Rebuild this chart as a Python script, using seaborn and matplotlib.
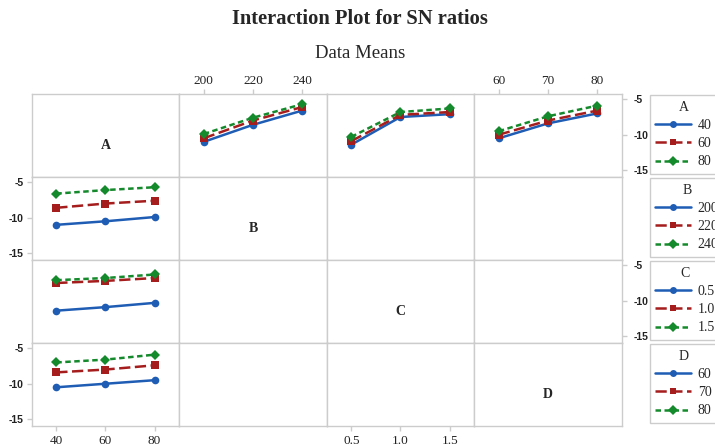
import matplotlib
matplotlib.use("Agg")
import matplotlib.pyplot as plt
from matplotlib.lines import Line2D
import seaborn as sns
import pandas as pd


###--- Factor levels
A_levels = [40, 60, 80]
B_levels = [200, 220, 240]
C_levels = [0.5, 1.0, 1.5]
D_levels = [60, 70, 80]

A_labels = ["40", "60", "80"]
B_labels = ["200", "220", "240"]
C_labels = ["0.5", "1.0", "1.5"]
D_labels = ["60", "70", "80"]

###--- Mean SN ratios (rows = A level, columns = other factor level)
sn_AB = [[-11.0, -8.6, -6.6],
         [-10.5, -8.0, -6.1],
         [-9.9, -7.6, -5.7]]
sn_AC = [[-11.4, -7.5, -7.1],
         [-10.9, -7.2, -6.8],
         [-10.3, -6.8, -6.3]]
sn_AD = [[-10.5, -8.4, -7.0],
         [-10.0, -8.0, -6.6],
         [-9.5, -7.4, -5.9]]

y_ticks = [-5, -10, -15]

###--- Styles
colors = ["#1f5db5", "#a51d1d", "#158a2c"]
markers = ["o", "s", "D"]
dashes = ["", (4.5, 1.8), (2.2, 1.4)]
grid_col = "#cccccc"

sns.set_style("white")
plt.rcParams["font.family"] = ["Liberation Serif", "DejaVu Serif"]

fig = plt.figure(figsize=(7.15, 4.46), dpi=100)
W, H = 715.0, 446.0
left, top = 31.7, 94.3
cw, rh = 147.5, 83.0

names = ["A", "B", "C", "D"]
levels = {"A": A_levels, "B": B_levels, "C": C_levels, "D": D_levels}
labels = {"A": A_labels, "B": B_labels, "C": C_labels, "D": D_labels}
pairs = {"B": sn_AB, "C": sn_AC, "D": sn_AD}

axes = {}
for r in range(4):
    for c in range(4):
        ax = fig.add_axes([(left + c * cw) / W, 1 - (top + (r + 1) * rh) / H, cw / W, rh / H])
        for s in ax.spines.values():
            s.set_color(grid_col)
            s.set_linewidth(1.0)
        axes[(r, c)] = ax


def long_table(mat, xname, hname, xlev, hlab, transpose=False):
    rows = []
    for i in range(3):
        for j in range(3):
            if transpose:
                rows.append({xname: xlev[i], hname: hlab[j], "SN": mat[i][j]})
            else:
                rows.append({xname: xlev[j], hname: hlab[i], "SN": mat[i][j]})
    return pd.DataFrame(rows)


def draw(ax, df, xname, hname, hlab):
    sns.lineplot(data=df, x=xname, y="SN", hue=hname, style=hname,
                 hue_order=hlab, style_order=hlab,
                 palette=colors, markers=markers, dashes=dashes,
                 linewidth=1.8, markersize=5.5, markeredgewidth=0,
                 legend=False, ax=ax)
    ax.set_xlabel("")
    ax.set_ylabel("")


###--- Row A: A levels vs B, C, D
for c, name in enumerate(["B", "C", "D"], start=1):
    df = long_table(pairs[name], name, "A", levels[name], A_labels)
    draw(axes[(0, c)], df, name, "A", A_labels)

###--- Column A: B, C, D levels vs A
for r, name in enumerate(["B", "C", "D"], start=1):
    df = long_table(pairs[name], "A", name, A_levels, labels[name], transpose=True)
    draw(axes[(r, 0)], df, "A", name, labels[name])

###--- Diagonal labels
for i, name in enumerate(names):
    axes[(i, i)].text(0.5, 0.38, name, transform=axes[(i, i)].transAxes,
                      ha="center", va="center", fontsize=10, fontweight="bold")

###--- Limits and ticks
for (r, c), ax in axes.items():
    lv = levels[names[c]]
    span = lv[-1] - lv[0]
    ax.set_xlim(lv[0] - 0.25 * span, lv[-1] + 0.25 * span)
    ax.set_ylim(-16.0, -4.3)
    ax.set_xticks([])
    ax.set_yticks([])

tick_kw = dict(colors=grid_col, length=3.5, width=1.0, labelcolor="#222222")

# x ticks: A and C at bottom, B and D at top
for c in range(4):
    name = names[c]
    if c in (0, 2):
        ax = axes[(3, c)]
        ax.set_xticks(levels[name], labels[name])
        ax.tick_params(axis="x", bottom=True, labelbottom=True, pad=3, labelsize=9.5, **tick_kw)
    else:
        ax = axes[(0, c)]
        ax.set_xticks(levels[name], labels[name])
        ax.tick_params(axis="x", bottom=False, labelbottom=False, top=True, labeltop=True,
                       pad=1.5, labelsize=9.5, **tick_kw)

# y ticks: rows A and C on right, B and D on left
for r in range(4):
    if r in (0, 2):
        ax = axes[(r, 3)]
        ax.set_yticks(y_ticks, [str(t) for t in y_ticks])
        ax.tick_params(axis="y", left=False, labelleft=False, right=True, labelright=True,
                       pad=5, labelsize=7.5, **tick_kw)
    else:
        ax = axes[(r, 0)]
        ax.set_yticks(y_ticks, [str(t) for t in y_ticks])
        ax.tick_params(axis="y", left=True, labelleft=True, pad=2.5, labelsize=7.5, **tick_kw)
    for t in ax.get_yticklabels():
        t.set_fontfamily(["Liberation Sans", "DejaVu Sans"])
        t.set_fontweight("bold")

###--- Legends on the right, one per row
for r, name in enumerate(names):
    handles = [Line2D([], [], color=colors[k], marker=markers[k], markersize=5,
                      markeredgewidth=0, linewidth=1.8,
                      linestyle="-" if k == 0 else (0, dashes[k]))
               for k in range(3)]
    fig.legend(handles, labels[name], title=name, loc="upper left",
               bbox_to_anchor=(650 / W, 1 - (top + 1 + r * rh) / H),
               frameon=True, fancybox=False, edgecolor=grid_col,
               fontsize=10, title_fontsize=10, handlelength=2.6,
               handletextpad=0.45, labelspacing=0.38, borderpad=0.38,
               borderaxespad=0, framealpha=1)

###--- Titles
fig.text(0.503, 1 - 19 / H, "Interaction Plot for SN ratios", ha="center", va="center",
         fontsize=14.8, fontweight="bold")
fig.text(0.503, 1 - 53 / H, "Data Means", ha="center", va="center", fontsize=13.5)

fig.savefig("out.png", dpi=100)
